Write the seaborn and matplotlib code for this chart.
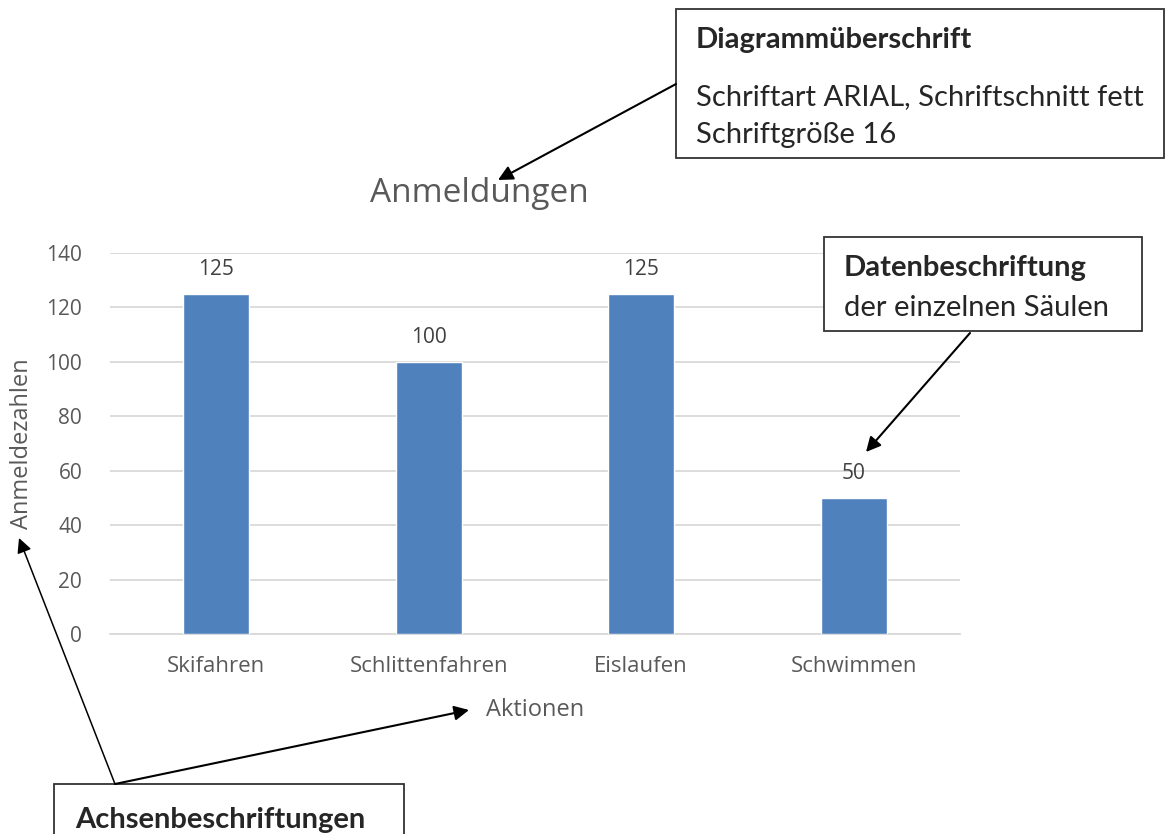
import seaborn as sns
import matplotlib.pyplot as plt
from matplotlib.patches import Rectangle, FancyArrowPatch

# data
aktionen = ["Skifahren", "Schlittenfahren", "Eislaufen", "Schwimmen"]
anmeldungen = [125, 100, 125, 50]
y_ticks = [0, 20, 40, 60, 80, 100, 120, 140]

W, H = 1171, 834
grey = "#595959"

sns.set_style("white")
plt.rcParams['font.family'] = ['Open Sans', 'DejaVu Sans']

fig = plt.figure(figsize=(W / 100, H / 100), dpi=100)
ax = fig.add_axes([110 / W, 1 - 634 / H, 850 / W, 381 / H])

sns.barplot(x=aktionen, y=anmeldungen, color="#4f81bd", saturation=1,
            width=0.31, ax=ax, zorder=3)
ax.bar_label(ax.containers[0], padding=10, fontsize=15, color="#404040")

ax.set_ylim(0, 140)
ax.set_xlim(-0.5, 3.5)
ax.set_yticks(y_ticks)
ax.grid(axis='y', color="#d9d9d9", lw=1.3, zorder=0)
sns.despine(ax=ax, left=True, top=True, right=True)
ax.spines['bottom'].set_color("#d9d9d9")
ax.spines['bottom'].set_linewidth(1.3)
ax.tick_params(axis='y', length=0, pad=20, labelsize=15, labelcolor=grey)
ax.tick_params(axis='x', length=0, pad=16, labelsize=16, labelcolor=grey)

ax.set_ylabel("Anmeldezahlen", fontsize=17, color=grey)
ax.yaxis.set_label_coords(-0.09, 0.5)
ax.set_xlabel("Aktionen", fontsize=17, color=grey)
ax.xaxis.set_label_coords(0.5, -0.168)

fig.text(479 / W, 1 - 193 / H, "Anmeldungen", fontsize=24, color=grey,
         ha='center', va='center')


def fx(x, y):
    return (x / W, 1 - y / H)


def box(x0, y0, x1, y1):
    fig.add_artist(Rectangle(fx(x0, y1), (x1 - x0) / W, (y1 - y0) / H,
                             transform=fig.transFigure, fill=True, fc='white',
                             ec='#333333', lw=1.3, zorder=5))


def arrow(a, b, lw=1.5):
    fig.add_artist(FancyArrowPatch(fx(*a), fx(*b), transform=fig.transFigure,
                                   arrowstyle='-|>', mutation_scale=22,
                                   lw=lw, color='black', shrinkA=0, shrinkB=0,
                                   zorder=6))


# Beschriftungskaesten
box_font = ['Lato', 'DejaVu Sans']
box(676, 9, 1164, 158)
fig.text(*fx(696, 40), "Diagrammüberschrift", fontsize=21, fontweight='bold',
         family=box_font, va='center', zorder=7)
fig.text(*fx(696, 97), "Schriftart ARIAL, Schriftschnitt fett", fontsize=21,
         family=box_font, va='center', zorder=7)
fig.text(*fx(696, 135), "Schriftgröße 16", fontsize=21, family=box_font,
         va='center', zorder=7)

box(824, 237, 1142, 331)
fig.text(*fx(844, 268), "Datenbeschriftung", fontsize=21, fontweight='bold',
         family=box_font, va='center', zorder=7)
fig.text(*fx(844, 308), "der einzelnen Säulen", fontsize=21,
         family=box_font, va='center', zorder=7)

box(54, 784, 404, 860)
fig.text(*fx(75, 820), "Achsenbeschriftungen", fontsize=21,
         fontweight='bold', family=box_font, va='center', zorder=7)

arrow((676, 84), (498, 180))
arrow((970, 333), (866, 452))
arrow((115, 784), (19, 538), lw=1.1)
arrow((115, 784), (469, 710))

fig.savefig("out.png", dpi=100)
